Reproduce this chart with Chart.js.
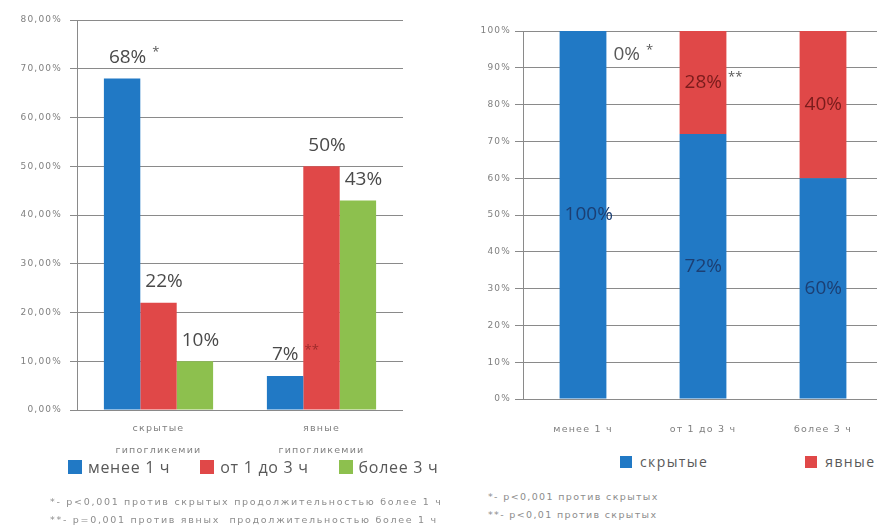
<!DOCTYPE html>
<html>
<head>
<meta charset="utf-8">
<script src="https://cdn.jsdelivr.net/npm/chart.js@4"></script>
<style>
  body { margin: 0; background: #fff; width: 877px; height: 527px; overflow: hidden; position: relative; font-family: "Open Sans", sans-serif; }
  #leftWrap { position: absolute; left: 0; top: 0; width: 440px; height: 460px; }
  #rightWrap { position: absolute; left: 440px; top: 0; width: 437px; height: 527px; overflow: hidden; background: #fff; }
  #rightCanvasBox { position: absolute; left: 0; top: 0; width: 460px; height: 450px; }
  .legend { position: absolute; display: flex; align-items: center; color: #595959; white-space: nowrap; }
  .legend .item { display: flex; align-items: center; }
  .legend .box { display: inline-block; }
  #leftLegend { left: 68px; top: 456px; font-size: 16px; letter-spacing: 0.7px; }
  #leftLegend .item { margin-right: 30px; }
  #leftLegend .box { width: 14px; height: 14px; margin-right: 6px; }
  #rightLegend { left: 180px; top: 452px; font-size: 14px; letter-spacing: 1.4px; }
  #rightLegend .item { margin-right: 97px; }
  #rightLegend .box { width: 12px; height: 12px; margin-right: 8px; }
  .notes { position: absolute; font-family: "DejaVu Sans", sans-serif; font-size: 9.5px; color: #8c8c8c; letter-spacing: 1.7px; line-height: 18px; white-space: pre; }
  #leftNotes { left: 50px; top: 493px; }
  #rightNotes { left: 48px; top: 488px; letter-spacing: 1.35px; }
</style>
</head>
<body>
<div id="leftWrap"><canvas id="left"></canvas></div>
<div id="leftLegend" class="legend"></div>
<div id="leftNotes" class="notes">*- p&lt;0,001 против скрытых продолжительностью более 1 ч
**- p=0,001 против явных  продолжительностью более 1 ч</div>
<div id="rightWrap">
  <div id="rightCanvasBox"><canvas id="right"></canvas></div>
  <div id="rightLegend" class="legend"></div>
  <div id="rightNotes" class="notes">*- p&lt;0,001 против скрытых
**- p&lt;0,01 против скрытых</div>
</div>
<script>
// гипогликемии по длительности, % случаев
var typeLabels = [['скрытые', 'гипогликемии'], ['явные', 'гипогликемии']];
var durationNames = ['менее 1 ч', 'от 1 до 3 ч', 'более 3 ч'];
var lessThan1h = [68, 7];
var from1to3h = [22, 50];
var moreThan3h = [10, 43];
var lessThan1hNotes = ['*', '**'];
var leftTicks = ['0,00%', '10,00%', '20,00%', '30,00%', '40,00%', '50,00%', '60,00%', '70,00%', '80,00%'];

// доля скрытых и явных внутри каждой длительности
var durationLabels = ['менее 1 ч', 'от 1 до 3 ч', 'более 3 ч'];
var hypoNames = ['скрытые', 'явные'];
var hiddenShare = [100, 72, 60];
var overtShare = [0, 28, 40];
var overtNotes = ['*', '**', ''];
var rightTicks = ['0%', '10%', '20%', '30%', '40%', '50%', '60%', '70%', '80%', '90%', '100%'];

var BLUE = '#2179c5', RED = '#e04848', GREEN = '#8dc04e';
var GRID = '#8a8a8a', TICK_TXT = '#7f7f7f';

// разрядка для мелких подписей осей
var spacedText = {
  id: 'spacedText',
  beforeDraw: function(chart) { chart.ctx.letterSpacing = '1.2px'; }
};

// подписи значений над столбцами / в середине сегментов
var valueLabels = {
  id: 'valueLabels',
  afterDatasetsDraw: function(chart, args, opts) {
    var ctx = chart.ctx;
    chart.data.datasets.forEach(function(ds, di) {
      var meta = chart.getDatasetMeta(di);
      meta.data.forEach(function(bar, i) {
        var v = ds.data[i];
        var note = ds.notes ? ds.notes[i] : '';
        var x, y, color = ds.labelColor;
        if (opts.mode === 'top') {
          x = bar.x - bar.width / 2 + 5;
          y = bar.y - 21;
        } else if (v === 0) {
          x = bar.x + bar.width / 2 + 7;
          y = bar.y + 24;
          color = '#595959';
        } else {
          x = bar.x - bar.width / 2 + 5;
          y = (bar.y + bar.base) / 2;
        }
        var txt = v + '%';
        ctx.save();
        ctx.letterSpacing = '0px';
        ctx.font = '19px "Open Sans"';
        ctx.fillStyle = color;
        ctx.textAlign = 'left';
        ctx.textBaseline = 'middle';
        ctx.fillText(txt, x, y);
        if (note) {
          var w = ctx.measureText(txt).width;
          ctx.font = '13px "Open Sans"';
          ctx.fillStyle = ds.noteColors ? ds.noteColors[i] : '#595959';
          ctx.fillText(note, x + w + 6, y - 5);
        }
        ctx.restore();
      });
    });
  }
};

function buildLegend(el, chart) {
  chart.data.datasets.forEach(function(ds) {
    var item = document.createElement('span');
    item.className = 'item';
    var box = document.createElement('span');
    box.className = 'box';
    box.style.background = ds.backgroundColor;
    item.appendChild(box);
    item.appendChild(document.createTextNode(ds.label));
    el.appendChild(item);
  });
}

var leftChart = new Chart(document.getElementById('left'), {
  type: 'bar',
  data: {
    labels: typeLabels,
    datasets: [
      { label: durationNames[0], data: lessThan1h, backgroundColor: BLUE, labelColor: '#4a4a4a',
        notes: lessThan1hNotes, noteColors: ['#595959', '#9c2b2b'] },
      { label: durationNames[1], data: from1to3h, backgroundColor: RED, labelColor: '#4a4a4a' },
      { label: durationNames[2], data: moreThan3h, backgroundColor: GREEN, labelColor: '#4a4a4a' }
    ]
  },
  options: {
    responsive: true,
    maintainAspectRatio: false,
    animation: false,
    layout: { padding: { left: 0, top: 20, right: 37, bottom: 0 } },
    datasets: { bar: { categoryPercentage: 0.67, barPercentage: 1 } },
    plugins: { legend: { display: false }, tooltip: { enabled: false }, valueLabels: { mode: 'top' } },
    scales: {
      x: {
        grid: { display: false },
        border: { display: false },
        ticks: { color: TICK_TXT, padding: 0, font: { family: 'DejaVu Sans', size: 9.5, lineHeight: 2.25 } },
        afterFit: function(s) { s.height = 50; }
      },
      y: {
        min: 0, max: 80,
        ticks: { stepSize: 10, color: TICK_TXT, padding: 8, font: { family: 'DejaVu Sans', size: 9 },
          callback: function(v, i) { return leftTicks[i]; } },
        grid: { color: GRID, tickLength: 7, tickColor: GRID },
        border: { color: GRID },
        afterFit: function(s) { s.width = 77; }
      }
    }
  },
  plugins: [spacedText, valueLabels]
});

var rightChart = new Chart(document.getElementById('right'), {
  type: 'bar',
  data: {
    labels: durationLabels,
    datasets: [
      { label: hypoNames[0], data: hiddenShare, backgroundColor: BLUE, labelColor: '#1c3f73' },
      { label: hypoNames[1], data: overtShare, backgroundColor: RED, labelColor: '#7a1c1c', notes: overtNotes }
    ]
  },
  options: {
    responsive: true,
    maintainAspectRatio: false,
    animation: false,
    layout: { padding: { left: 0, top: 31, right: 17, bottom: 0 } },
    datasets: { bar: { categoryPercentage: 0.39, barPercentage: 1 } },
    plugins: { legend: { display: false }, tooltip: { enabled: false }, valueLabels: { mode: 'middle' } },
    scales: {
      x: {
        stacked: true,
        grid: { display: false },
        border: { display: false },
        ticks: { color: TICK_TXT, padding: 17, font: { family: 'DejaVu Sans', size: 9.5 } },
        afterFit: function(s) { s.height = 51; }
      },
      y: {
        stacked: true,
        min: 0, max: 100,
        ticks: { stepSize: 10, color: TICK_TXT, padding: 4, font: { family: 'DejaVu Sans', size: 9 },
          callback: function(v, i) { return rightTicks[i]; } },
        grid: { color: GRID, tickLength: 8, tickColor: GRID },
        border: { color: GRID },
        afterFit: function(s) { s.width = 83; }
      }
    }
  },
  plugins: [spacedText, valueLabels]
});

buildLegend(document.getElementById('leftLegend'), leftChart);
buildLegend(document.getElementById('rightLegend'), rightChart);
</script>
</body>
</html>
